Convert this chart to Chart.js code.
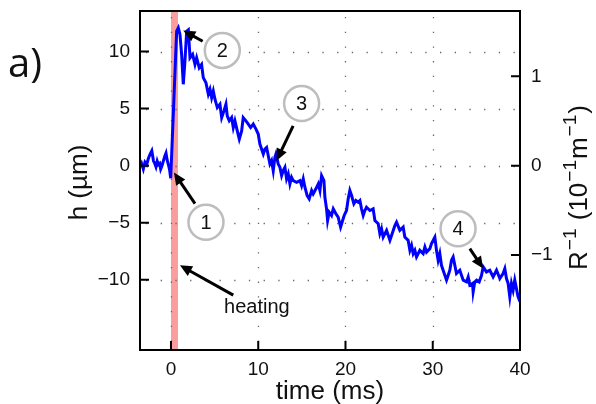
<!DOCTYPE html>
<html><head><meta charset="utf-8">
<script src="https://cdn.jsdelivr.net/npm/chart.js@4"></script>
<style>html,body{margin:0;padding:0;background:#fff}</style>
</head><body>
<canvas id="c" width="596" height="404"></canvas>
<script>
// ---- data (time in ms, h in µm) ----
const timeMs = [-3.55,-3.37,-3.17,-2.98,-2.78,-2.6,-2.4,-2.2,-2.0,-1.86,-1.72,-1.58,-1.45,-1.3,-1.18,-1.03,-0.88,-0.72,-0.57,-0.44,-0.3,-0.15,-0.03,
  0.65,0.84,1.03,1.22,1.41,1.6,1.8,1.99,2.18,2.48,2.75,2.94,3.24,3.51,3.70,4.01,4.28,4.47,4.66,4.85,5.04,5.31,5.61,5.81,6.07,6.30,6.45,6.68,6.95,7.14,7.33,7.60,7.83,8.10,8.28,8.59,8.86,9.13,9.43,9.74,
  10.0,10.19,10.58,10.77,10.96,11.15,11.34,11.53,11.72,11.91,12.03,12.29,12.49,12.68,12.86,13.06,13.25,13.44,13.63,13.82,14.01,14.4,14.78,14.97,15.16,15.35,15.61,15.84,16.12,16.3,16.61,16.88,17.07,17.26,17.53,17.64,17.83,17.95,18.13,18.4,18.6,18.9,19.16,19.44,19.67,19.85,
  20.12,20.31,20.5,20.7,20.96,21.19,21.46,21.65,21.84,22.03,22.22,22.41,22.8,23.17,23.37,23.75,23.94,24.13,24.32,24.71,25.09,25.28,25.66,25.85,26.23,26.61,26.8,27.18,27.38,27.57,27.76,27.95,28.14,28.52,28.9,29.1,29.29,29.67,29.86,
  30.05,30.24,30.43,30.62,30.81,31.0,31.19,31.58,31.77,31.96,32.15,32.34,32.53,32.72,33.1,33.49,33.87,34.06,34.25,34.56,34.63,34.82,35.02,35.32,35.59,35.78,36.16,36.54,36.92,37.31,37.69,38.06,38.26,38.45,38.64,38.83,39.02,39.21,39.4,39.78,40.0];
const heightUm = [-0.1,0.2,-0.3,0.3,0.1,0.6,1.0,1.3,0.4,0.2,-0.1,0.4,0.1,0.2,-0.3,0.0,0.4,0.8,1.1,0.5,0.1,-0.4,-1.1,
  11.78,12.07,11.5,9.75,7.13,9.16,11.78,11.9,9.45,9.75,8.87,9.45,8.58,8.87,7.71,7.27,6.26,6.69,5.96,6.54,5.82,5.09,5.38,4.21,4.8,5.38,4.36,3.93,4.21,3.34,3.93,3.05,2.33,3.05,4.21,3.93,3.64,3.34,3.64,3.2,
  2.77,1.89,1.02,1.46,1.6,0.87,0.15,0.44,-0.44,0.73,1.02,0.15,-0.15,-0.87,-0.44,-0.15,-1.16,-0.73,-1.6,-1.02,-1.31,-1.46,-1.31,-1.75,-1.16,-1.89,-2.62,-2.91,-2.18,-2.47,-2.03,-1.6,-2.18,-0.87,-1.31,-2.77,-3.78,-4.8,-4.07,-4.36,-3.78,-4.21,-4.51,-5.38,-4.8,-4.36,
  -3.93,-2.91,-2.18,-2.62,-3.34,-3.05,-3.2,-3.05,-3.78,-4.36,-3.93,-3.64,-3.93,-3.78,-4.8,-5.09,-5.96,-5.53,-6.26,-5.67,-6.54,-6.11,-5.24,-4.95,-5.67,-5.38,-6.26,-6.54,-7.42,-6.98,-7.71,-7.42,-8.0,-7.42,-7.71,-7.13,-7.57,-7.27,-6.83,
  -6.54,-6.26,-7.42,-8.29,-7.71,-8.73,-9.16,-10.03,-9.6,-9.16,-8.29,-8.0,-8.73,-9.45,-9.16,-10.03,-10.18,-9.75,-10.47,-10.32,-11.05,-10.18,-10.03,-10.18,-9.6,-8.87,-9.31,-9.16,-9.75,-9.16,-9.89,-9.45,-9.02,-9.89,-10.32,-11.49,-10.32,-10.91,-10.03,-11.49,-11.93];
const xTicks = [0,10,20,30,40];
const yTicks = [-10,-5,0,5,10];
const y2Ticks = [-1,0,1];
const xRange = [-3.55, 40];
const yRange = [-16.15, 13.55];
const umPerInvR = 7.83;           // 1 unit of R^-1 (10^-1 m^-1) in µm of h
const heatingBand = [0, 0.8];     // ms
// annotation anchors in data units (ms, µm)
const markers = [
  {label:'1', cx:4.01, cy:-4.95, fx:2.75, fy:-3.32, tx:0.34, ty:-0.61},
  {label:'2', cx:5.88, cy:10.1, fx:3.63, fy:10.9, tx:1.41, ty:11.84},
  {label:'3', cx:14.97, cy:5.44, fx:14.0, fy:3.49, tx:12.1, ty:0.44},
  {label:'4', cx:32.9, cy:-5.52, fx:34.25, fy:-7.27, tx:35.77, ty:-9.01}
];
const heating = {text:'heating', lx:9.85, ly:-12.4, fx:7.14, fy:-11.34, tx:1.03, ty:-8.73};

const FONT = '"Liberation Sans", Arial, sans-serif';
const fmt = v => (v < 0 ? '\u2212' + Math.abs(v) : String(v));

function drawArrow(ctx, x1, y1, x2, y2) {
  const ang = Math.atan2(y2 - y1, x2 - x1);
  const hl = 12, hw = 5.5;
  const bx = x2 - hl * Math.cos(ang), by = y2 - hl * Math.sin(ang);
  ctx.save();
  ctx.strokeStyle = '#000'; ctx.fillStyle = '#000'; ctx.lineWidth = 3;
  ctx.beginPath(); ctx.moveTo(x1, y1); ctx.lineTo(bx + 2*Math.cos(ang), by + 2*Math.sin(ang)); ctx.stroke();
  ctx.beginPath();
  ctx.moveTo(x2, y2);
  ctx.lineTo(bx + hw * Math.sin(ang), by - hw * Math.cos(ang));
  ctx.lineTo(bx - hw * Math.sin(ang), by + hw * Math.cos(ang));
  ctx.closePath(); ctx.fill();
  ctx.restore();
}

const decor = {
  id: 'decor',
  beforeDatasetsDraw(chart) {
    const {ctx, chartArea: a, scales: {x, y}} = chart;
    ctx.save();
    ctx.fillStyle = 'rgba(248,140,140,0.85)';
    const b0 = x.getPixelForValue(heatingBand[0]), b1 = x.getPixelForValue(heatingBand[1]);
    ctx.fillRect(b0, a.top, b1 - b0, a.bottom - a.top);
    ctx.strokeStyle = '#666'; ctx.lineWidth = 1.3; ctx.setLineDash([1.3, 13.4]);
    xTicks.forEach(v => {
      if (v >= xRange[1]) return;
      const px = Math.round(x.getPixelForValue(v)) + 0.5;
      ctx.beginPath(); ctx.moveTo(px, a.top + 6); ctx.lineTo(px, a.bottom); ctx.stroke();
    });
    yTicks.forEach(v => {
      const py = Math.round(y.getPixelForValue(v)) + 0.5;
      ctx.beginPath(); ctx.moveTo(a.left + 6, py); ctx.lineTo(a.right, py); ctx.stroke();
    });
    ctx.restore();
  },
  afterDatasetsDraw(chart) {
    const {ctx, chartArea: a, scales: {x, y, y2}} = chart;
    ctx.save();
    markers.forEach(m => {
      drawArrow(ctx, x.getPixelForValue(m.fx), y.getPixelForValue(m.fy), x.getPixelForValue(m.tx), y.getPixelForValue(m.ty));
      const cx = x.getPixelForValue(m.cx), cy = y.getPixelForValue(m.cy);
      ctx.beginPath(); ctx.arc(cx, cy, 17.5, 0, Math.PI * 2);
      ctx.fillStyle = '#fff'; ctx.fill();
      ctx.strokeStyle = '#bdbdbd'; ctx.lineWidth = 2.5; ctx.stroke();
      ctx.fillStyle = '#111'; ctx.font = '20px ' + FONT; ctx.textAlign = 'center'; ctx.textBaseline = 'middle';
      ctx.fillText(m.label, cx, cy + 1);
    });
    drawArrow(ctx, x.getPixelForValue(heating.fx), y.getPixelForValue(heating.fy), x.getPixelForValue(heating.tx), y.getPixelForValue(heating.ty));
    ctx.fillStyle = '#111'; ctx.font = '20px ' + FONT; ctx.textAlign = 'center'; ctx.textBaseline = 'middle';
    ctx.fillText(heating.text, x.getPixelForValue(heating.lx), y.getPixelForValue(heating.ly));
    ctx.strokeStyle = '#000'; ctx.lineWidth = 2;
    ctx.strokeRect(a.left, a.top, a.right - a.left, a.bottom - a.top);
    ctx.beginPath();
    yTicks.forEach(v => { const p = y.getPixelForValue(v); ctx.moveTo(a.left, p); ctx.lineTo(a.left + 9, p); });
    y2Ticks.forEach(v => { const p = y2.getPixelForValue(v); ctx.moveTo(a.right, p); ctx.lineTo(a.right - 9, p); });
    xTicks.forEach(v => { const p = x.getPixelForValue(v); ctx.moveTo(p, a.bottom); ctx.lineTo(p, a.bottom - 9); });
    ctx.stroke();
    ctx.fillStyle = '#111'; ctx.font = '26px ' + FONT; ctx.textAlign = 'center'; ctx.textBaseline = 'alphabetic';
    ctx.fillText('time (ms)', (a.left + a.right) / 2, 399);
    ctx.save(); ctx.translate(87, (a.top + a.bottom) / 2 + 2); ctx.rotate(-Math.PI / 2);
    ctx.fillText('h (\u00b5m)', 0, 0); ctx.restore();
    const parts = [['R',26,0],['\u22121',19,-11],[' (10',26,0],['\u22121',19,-11],['m',26,0],['\u22121',19,-11],[')',26,0]];
    let total = 0;
    parts.forEach(p => { ctx.font = p[1] + 'px ' + FONT; total += ctx.measureText(p[0]).width + 1; });
    ctx.save(); ctx.translate(587, 187); ctx.rotate(-Math.PI / 2);
    ctx.textAlign = 'left';
    let cx = -total / 2;
    parts.forEach(p => { ctx.font = p[1] + 'px ' + FONT; ctx.fillText(p[0], cx, p[2]); cx += ctx.measureText(p[0]).width + 1; });
    ctx.restore();
    ctx.font = '40px "Open Sans", "Noto Sans", sans-serif'; ctx.textAlign = 'left';
    ctx.fillText('a)', 8, 77);
    ctx.restore();
  }
};

const noPadV = s => { s.paddingTop = 0; s.paddingBottom = 0; };
new Chart(document.getElementById('c'), {
  type: 'scatter',
  data: {
    datasets: [{
      data: timeMs.map((t, i) => ({x: t, y: heightUm[i]})),
      showLine: true, borderColor: '#0000ff', borderWidth: 3,
      pointRadius: 0, tension: 0, yAxisID: 'y', borderJoinStyle: 'miter'
    }]
  },
  options: {
    responsive: false, animation: false, devicePixelRatio: 1,
    layout: {padding: {top: 11, left: 0, right: 0, bottom: 0}},
    plugins: {legend: {display: false}, tooltip: {enabled: false}},
    scales: {
      x: {
        type: 'linear', min: xRange[0], max: xRange[1],
        afterBuildTicks: s => { s.ticks = xTicks.map(v => ({value: v})); },
        afterFit: s => { s.height = 54; s.paddingLeft = 0; s.paddingRight = 0; },
        grid: {display: false, drawTicks: false}, border: {display: false},
        ticks: {padding: 8, color: '#111', font: {family: FONT, size: 19}, callback: v => fmt(v), maxRotation: 0}
      },
      y: {
        type: 'linear', position: 'left', min: yRange[0], max: yRange[1],
        afterBuildTicks: s => { s.ticks = yTicks.map(v => ({value: v})); },
        afterFit: s => { s.width = 140; noPadV(s); },
        grid: {display: false, drawTicks: false}, border: {display: false},
        ticks: {padding: 10, color: '#111', font: {family: FONT, size: 19}, callback: v => fmt(v)}
      },
      y2: {
        type: 'linear', position: 'right', min: yRange[0] / umPerInvR, max: yRange[1] / umPerInvR,
        afterBuildTicks: s => { s.ticks = y2Ticks.map(v => ({value: v})); },
        afterFit: s => { s.width = 76; noPadV(s); },
        grid: {display: false, drawTicks: false}, border: {display: false},
        ticks: {padding: 11, color: '#111', font: {family: FONT, size: 19}, callback: v => fmt(v)}
      }
    }
  },
  plugins: [decor]
});
</script>
</body></html>
